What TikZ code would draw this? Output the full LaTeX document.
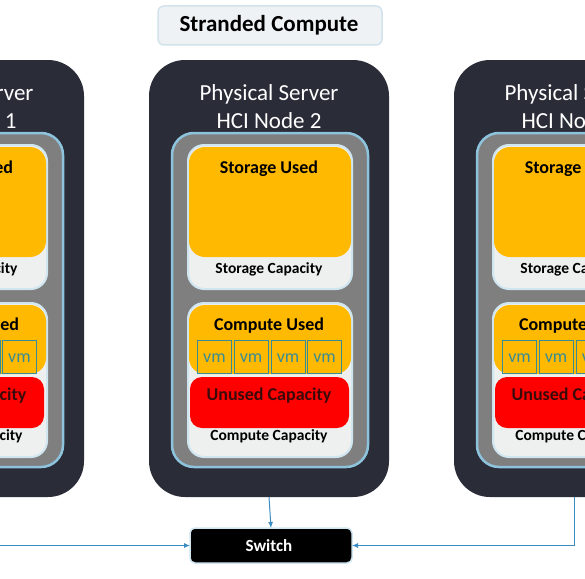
\documentclass[tikz,border=0pt]{standalone}
\usepackage{fontspec}
\setmainfont{Carlito}
\usetikzlibrary{arrows.meta,positioning}
\definecolor{hciDark}{HTML}{2A2C38}
\definecolor{hciPanel}{HTML}{7F7F7F}
\definecolor{hciEdge}{HTML}{8DC3DC}
\definecolor{hciLight}{HTML}{EEEFEF}
\definecolor{hciLightEdge}{HTML}{CFE5EF}
\definecolor{hciUsed}{HTML}{FFB900}
\definecolor{hciUnused}{HTML}{FF0000}
\definecolor{hciUnusedText}{HTML}{3B0A0A}
\definecolor{hciVm}{HTML}{3A8C94}
\definecolor{hciLink}{HTML}{3A8CC2}
\definecolor{hciTitle}{HTML}{EEF2F4}
\definecolor{hciTitleEdge}{HTML}{D2E3EC}

\begin{document}
\begin{tikzpicture}[x=1pt,y=-1pt,
    box/.style={rectangle,inner sep=0pt,outer sep=0pt},
    server/.style={box,fill=hciDark,rounded corners=36pt,
                   minimum width=240pt,minimum height=437pt},
    panel/.style={box,fill=hciPanel,draw=hciEdge,line width=2.5pt,
                  rounded corners=22pt,minimum width=196pt,minimum height=334pt},
    capacity/.style={box,fill=hciLight,draw=hciLightEdge,line width=2pt,
                     rounded corners=16pt,minimum width=164pt},
    used/.style={box,fill=hciUsed,rounded corners=16pt,minimum width=162pt},
    unused/.style={box,fill=hciUnused,rounded corners=12pt,
                   minimum width=159pt,minimum height=51pt},
    vmbox/.style={box,draw=hciVm,line width=1pt,
                  minimum width=34pt,minimum height=33pt},
    label/.style={anchor=base,inner sep=0pt},
    big/.style={label,font=\bfseries\fontsize{18}{21}\selectfont},
    small/.style={label,font=\bfseries\fontsize{15.5}{18}\selectfont},
    link/.style={draw=hciLink,line width=1pt,-{Latex[length=6pt,width=5pt]}}
  ]
  \useasboundingbox (0,0) rectangle (585,578);
  \clip (0,0) rectangle (585,578);

  % title
  \node[box,fill=hciTitle,draw=hciTitleEdge,line width=1.5pt,rounded corners=6pt,
        minimum width=224pt,minimum height=39pt] (title) at (270,25.5) {};
  \node[label,font=\bfseries\fontsize{23}{27}\selectfont] at (269,32) {Stranded Compute};

  % the three HCI nodes
  \foreach \i/\cx in {1/-36,2/269,3/574} {
    \node[server] (srv\i) at (\cx,278.5) {};
    \node[label,text=white,font=\fontsize{23}{28}\selectfont]
      (name\i) at (\cx,100) {Physical Server};
    \node[label,text=white,font=\fontsize{23}{28}\selectfont]
      (hci\i) at (\cx,128) {HCI Node \i};
    \node[panel] (panel\i) at ({\cx+1},300) {};
    % storage
    \node[capacity,minimum height=144pt] (storcap\i) at ({\cx+1},217) {};
    \node[used,minimum height=110pt] (storused\i) at ({\cx+1},202) {};
    \node[big] at ({\cx},173) {Storage Used};
    \node[small] at ({\cx},273) {Storage Capacity};
    % compute
    \node[capacity,minimum height=154pt] (compcap\i) at ({\cx+1},380) {};
    \node[used,minimum height=69pt] (compused\i) at ({\cx+1},339.5) {};
    \node[big] at ({\cx},330) {Compute Used};
    \foreach \j/\dx in {1/-54.5,2/-18,3/19,4/55.5} {
      \node[vmbox] (vm\i\j) at ({\cx+\dx},357) {};
      \node[label,text=hciVm,font=\fontsize{18}{21}\selectfont] at ({\cx+\dx},362) {vm};
    }
    \node[unused] (unused\i) at ({\cx+0.5},402.5) {};
    \node[big,text=hciUnusedText] at ({\cx},400) {Unused Capacity};
    \node[small] at ({\cx},440) {Compute Capacity};
  }

  % switch
  \node[box,fill=black,draw=hciLightEdge,line width=1.5pt,rounded corners=5pt,
        minimum width=162pt,minimum height=35pt] (switch) at (271,545.5) {};
  \node[label,text=white,font=\bfseries\fontsize{17}{20}\selectfont] at (269,551) {Switch};

  \draw[link] (srv2.south) -- (switch.north);
  \draw[link] (srv1.south) |- (switch.west);
  \draw[link] (srv3.south) |- (switch.east);
\end{tikzpicture}
\end{document}
